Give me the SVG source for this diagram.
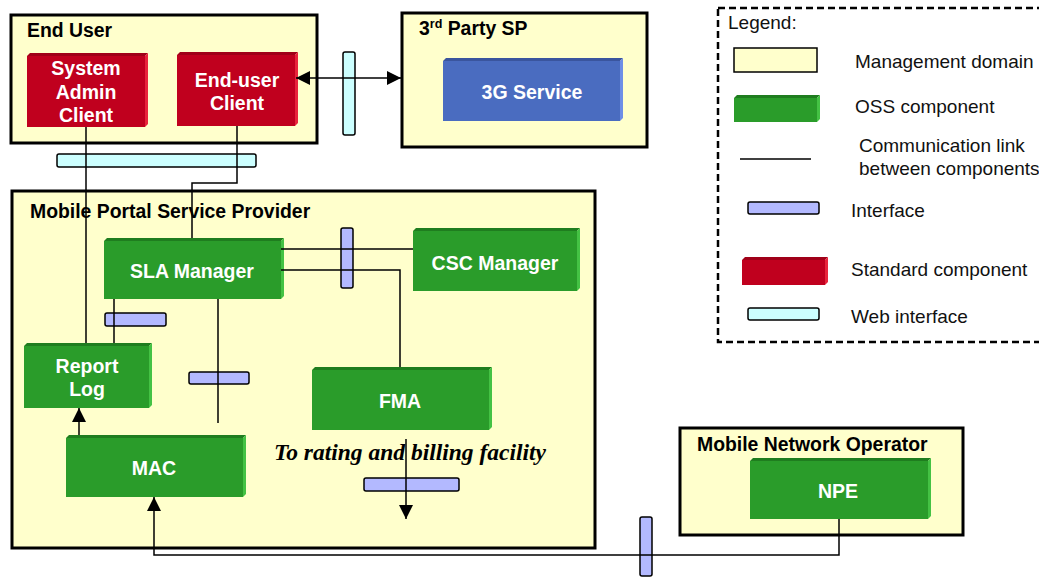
<svg xmlns="http://www.w3.org/2000/svg" width="1039" height="579" viewBox="0 0 1039 579">
<style>
.dom{fill:#FFFFCC;stroke:#000;stroke-width:3}
.title{font-family:"Liberation Sans",Arial,sans-serif;font-weight:bold;font-size:19.4px;fill:#000}
.lbl{font-family:"Liberation Sans",Arial,sans-serif;font-weight:bold;font-size:19.5px;fill:#fff;text-anchor:middle}
.leg{font-family:"Liberation Sans",Arial,sans-serif;font-size:19px;fill:#111}
.gf{fill:#2A9C2A}.gt{fill:#1F7D1F}.gr{fill:#44C244}
.rf{fill:#C0001E}.rt{fill:#A00018}.rr{fill:#E8243C}
.bf{fill:#4A6CC0}.bt{fill:#3A559E}.br{fill:#6E8EE6}
.itf{fill:#B3B9FF;stroke:#000;stroke-width:1.5}
.web{fill:#CCFFFF;stroke:#000;stroke-width:1.5}
.ln{fill:none;stroke:#000;stroke-width:1.5}
.ital{font-family:"Liberation Serif","Times New Roman",serif;font-weight:bold;font-style:italic;font-size:23.5px;fill:#000}
</style>
<defs>
<marker id="ah" markerUnits="userSpaceOnUse" markerWidth="15" markerHeight="15" refX="14" refY="7" orient="auto-start-reverse">
<path d="M0,0 L14,7 L0,14 z" fill="#000"/>
</marker>
</defs>

<!-- Legend -->
<g id="legend">
<rect x="718" y="8" width="330" height="334" fill="none" stroke="#000" stroke-width="2.5" stroke-dasharray="7,4"/>
<text class="leg" x="728" y="29">Legend:</text>
<rect x="734" y="48" width="83" height="24" fill="#FFFFCC" stroke="#000" stroke-width="1.5"/>
<text class="leg" x="855" y="68">Management domain</text>
<rect class="gf" x="734" y="98" width="83" height="24"/>
<polygon class="gt" points="734,98 737,95 820,95 817,98"/>
<polygon class="gr" points="817,98 820,95 820,119 817,122"/>
<text class="leg" x="855" y="113">OSS component</text>
<line x1="740" y1="159" x2="811" y2="159" stroke="#000" stroke-width="1.5"/>
<text class="leg" x="859" y="152">Communication link</text>
<text class="leg" x="859" y="175" font-size="18.7">between components</text>
<rect class="itf" x="748" y="202" width="71" height="12" rx="2"/>
<text class="leg" x="851" y="217">Interface</text>
<rect class="rf" x="742" y="260" width="83" height="25"/>
<polygon class="rt" points="742,260 745,257 828,257 825,260"/>
<polygon class="rr" points="825,260 828,257 828,282 825,285"/>
<text class="leg" x="851" y="276">Standard component</text>
<rect class="web" x="748" y="308" width="71" height="12" rx="2"/>
<text class="leg" x="851" y="323">Web interface</text>
</g>

<!-- Domains -->
<g id="end-user">
<rect class="dom" x="11" y="15" width="306" height="128"/>
<text class="title" x="27" y="37">End User</text>
</g>
<g id="third-party-sp">
<rect class="dom" x="402" y="13" width="245" height="134"/>
<text class="title" x="419" y="35">3<tspan font-size="12.5" dy="-7">rd</tspan><tspan dy="7"> Party SP</tspan></text>
</g>
<g id="mobile-portal">
<rect class="dom" x="12" y="191" width="583" height="357"/>
<text class="title" x="30" y="218">Mobile Portal Service Provider</text>
</g>
<g id="mno">
<rect class="dom" x="680" y="428" width="283" height="107"/>
<text class="title" x="697" y="451">Mobile Network Operator</text>
</g>

<!-- Components -->
<g id="system-admin-client">
<rect class="rf" x="27" y="56" width="118" height="71"/>
<polygon class="rt" points="27,56 30,53 148,53 145,56"/>
<polygon class="rr" points="145,56 148,53 148,124 145,127"/>
<text class="lbl" x="86" y="75">System</text>
<text class="lbl" x="86" y="99">Admin</text>
<text class="lbl" x="86" y="122">Client</text>
</g>
<g id="end-user-client">
<rect class="rf" x="177" y="55" width="118" height="71"/>
<polygon class="rt" points="177,55 180,52 298,52 295,55"/>
<polygon class="rr" points="295,55 298,52 298,123 295,126"/>
<text class="lbl" x="237" y="87">End-user</text>
<text class="lbl" x="237" y="110">Client</text>
</g>
<g id="3g-service">
<rect class="bf" x="443" y="61" width="177" height="60"/>
<polygon class="bt" points="443,61 446,58 623,58 620,61"/>
<polygon class="br" points="620,61 623,58 623,118 620,121"/>
<text class="lbl" x="532" y="99">3G Service</text>
</g>
<g id="sla-manager">
<rect class="gf" x="104" y="241" width="177" height="58"/>
<polygon class="gt" points="104,241 107,238 284,238 281,241"/>
<polygon class="gr" points="281,241 284,238 284,296 281,299"/>
<text class="lbl" x="192" y="278">SLA Manager</text>
</g>
<g id="csc-manager">
<rect class="gf" x="413" y="231" width="164" height="60"/>
<polygon class="gt" points="413,231 416,228 580,228 577,231"/>
<polygon class="gr" points="577,231 580,228 580,288 577,291"/>
<text class="lbl" x="495" y="270">CSC Manager</text>
</g>
<g id="report-log">
<rect class="gf" x="24" y="346" width="125" height="62"/>
<polygon class="gt" points="24,346 27,343 152,343 149,346"/>
<polygon class="gr" points="149,346 152,343 152,405 149,408"/>
<text class="lbl" x="87" y="373">Report</text>
<text class="lbl" x="87" y="396">Log</text>
</g>
<g id="mac">
<rect class="gf" x="66" y="438" width="177" height="59"/>
<polygon class="gt" points="66,438 69,435 246,435 243,438"/>
<polygon class="gr" points="243,438 246,435 246,494 243,497"/>
<text class="lbl" x="154" y="475">MAC</text>
</g>
<g id="fma">
<rect class="gf" x="312" y="370" width="177" height="60"/>
<polygon class="gt" points="312,370 315,367 492,367 489,370"/>
<polygon class="gr" points="489,370 492,367 492,427 489,430"/>
<text class="lbl" x="400" y="408">FMA</text>
</g>
<g id="npe">
<rect class="gf" x="750" y="461" width="178" height="58"/>
<polygon class="gt" points="750,461 753,458 931,458 928,461"/>
<polygon class="gr" points="928,461 931,458 931,516 928,519"/>
<text class="lbl" x="838" y="498">NPE</text>
</g>
<g id="billing-label">
<text class="ital" x="274" y="460">To rating and billing facility</text>
</g>

<!-- Interfaces -->
<g id="interfaces">
<rect class="web" x="343" y="52" width="12" height="83" rx="2"/>
<rect class="web" x="57" y="154" width="199" height="13" rx="2"/>
<rect class="itf" x="341" y="228" width="12" height="60" rx="2"/>
<rect class="itf" x="105" y="313" width="61" height="13" rx="2"/>
<rect class="itf" x="189" y="372" width="60" height="12" rx="2"/>
<rect class="itf" x="364" y="478" width="95" height="13" rx="2"/>
<rect class="itf" x="640" y="517" width="12" height="59" rx="2"/>
</g>

<!-- Connectors -->
<g id="connectors">
<line class="ln" x1="86" y1="127" x2="86" y2="343"/>
<polyline class="ln" points="237,126 237,183 192,183 192,238"/>
<line class="ln" x1="296" y1="78" x2="401" y2="78" marker-start="url(#ah)" marker-end="url(#ah)"/>
<line class="ln" x1="281" y1="249" x2="413" y2="249"/>
<polyline class="ln" points="281,270 400,270 400,367"/>
<line class="ln" x1="114" y1="299" x2="114" y2="343"/>
<line class="ln" x1="218" y1="299" x2="218" y2="423"/>
<line class="ln" x1="79" y1="435" x2="79" y2="408" marker-end="url(#ah)"/>
<polyline class="ln" points="839,519 839,555 154,555 154,497" marker-end="url(#ah)"/>
<line class="ln" x1="406" y1="439" x2="406" y2="519" marker-end="url(#ah)"/>
</g>
</svg>
